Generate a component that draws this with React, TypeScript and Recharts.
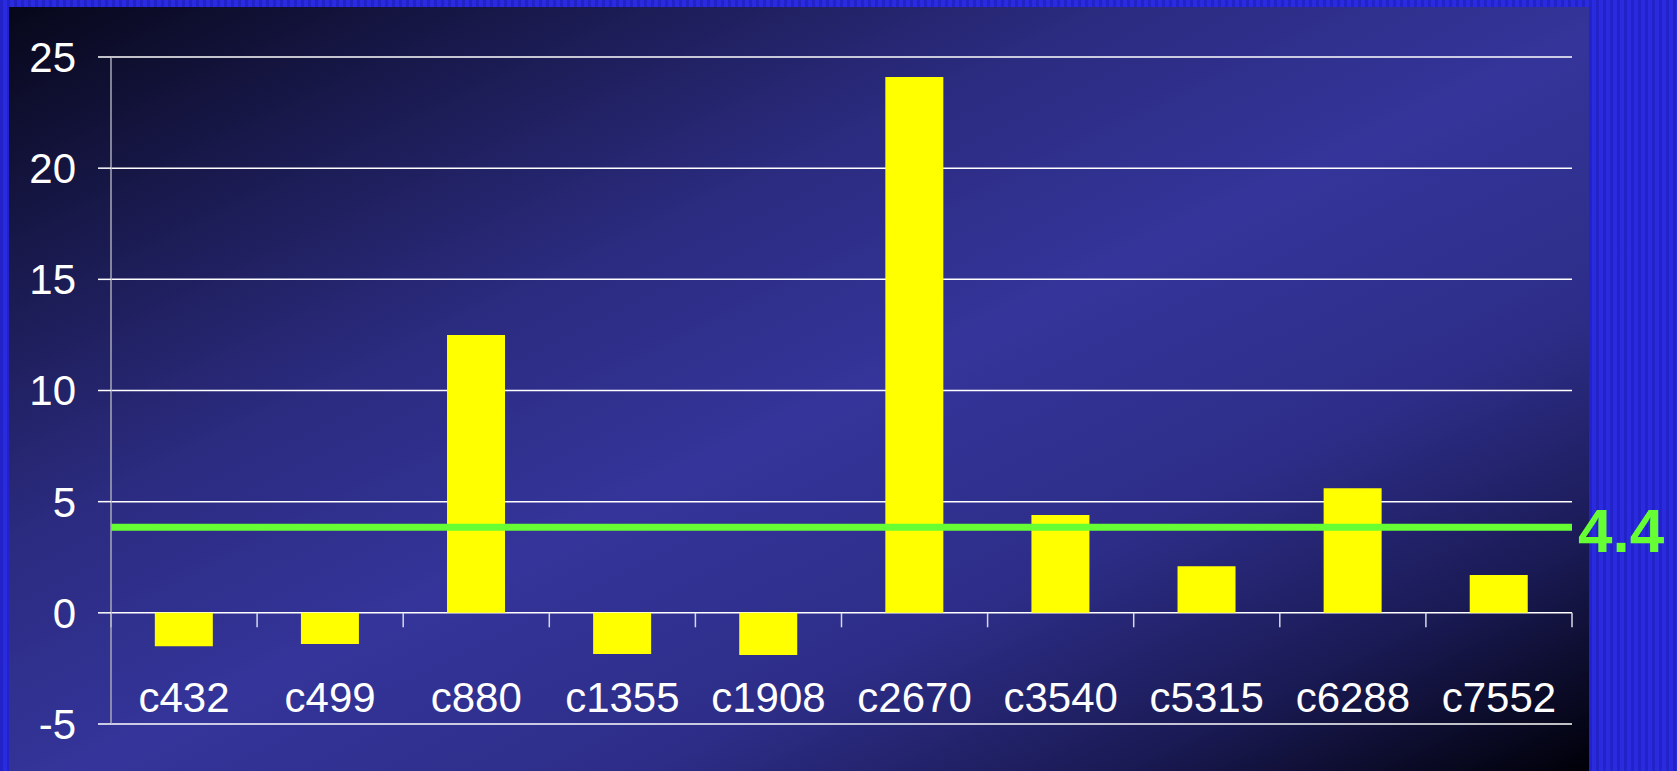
import { Bar, BarChart, CartesianGrid, ReferenceLine, XAxis, YAxis } from "recharts";

const CATEGORIES = ["c432", "c499", "c880", "c1355", "c1908", "c2670", "c3540", "c5315", "c6288", "c7552"];
const VALUES = [-1.5, -1.4, 12.5, -1.85, -1.9, 24.1, 4.4, 2.1, 5.6, 1.7];
const Y_TICKS = [-5, 0, 5, 10, 15, 20, 25];
// the green line sits a bit below the value printed next to it
const AVERAGE_LINE_Y = 3.85;
const AVERAGE_LABEL = "4.4";

const WIDTH = 1677;
const HEIGHT = 771;
const FONT = '"Liberation Sans", Arial, sans-serif';
const TICK_STYLE = { fill: "#ffffff", fontSize: 42, fontFamily: FONT };

const data = CATEGORIES.map((name, i) => ({ name, value: VALUES[i] }));

function CategoryTick({ x, y, payload }: any) {
  return (
    <text x={x} y={y - 12} textAnchor="middle" fill="#ffffff" fontSize={42} fontFamily={FONT}>
      {payload.value}
    </text>
  );
}

export default function App() {
  return (
    <div
      style={{
        position: "absolute",
        left: 0,
        top: 0,
        width: WIDTH,
        height: HEIGHT,
        overflow: "hidden",
        background:
          "repeating-linear-gradient(90deg, rgba(0,0,60,0.12) 0px, rgba(0,0,60,0.12) 3px, rgba(80,80,255,0.08) 3px, rgba(80,80,255,0.08) 7px), #2727dc",
      }}
    >
      {/* dark slide panel behind the chart */}
      <div
        style={{
          position: "absolute",
          left: 9,
          top: 7,
          width: 1580,
          height: HEIGHT - 7,
          background:
            "linear-gradient(to bottom right, #07071a 0%, #1a1a50 18%, #2b2b80 35%, #34349a 52%, #2d2d88 70%, #1a1a55 85%, #000008 100%)",
        }}
      />
      <div style={{ position: "absolute", left: 0, top: 0 }}>
        <BarChart
          width={WIDTH}
          height={HEIGHT}
          data={data}
          margin={{ top: 57, right: 105, bottom: 17, left: 0 }}
          barCategoryGap="30%"
        >
          <CartesianGrid vertical={false} stroke="#ffffff" strokeWidth={1.5} />
          <XAxis
            dataKey="name"
            height={30}
            axisLine={false}
            tickLine={false}
            tickSize={0}
            tickMargin={0}
            interval={0}
            tick={<CategoryTick />}
          />
          <YAxis
            width={111}
            domain={[-5, 25]}
            ticks={Y_TICKS}
            interval={0}
            axisLine={{ stroke: "#a8a8b8", strokeWidth: 1.5 }}
            tickLine={{ stroke: "#ffffff", strokeWidth: 1.5 }}
            tickSize={13}
            tickMargin={22}
            tick={TICK_STYLE}
          />
          <Bar dataKey="value" fill="#ffff00" isAnimationActive={false} />
          {CATEGORIES.map((c) => (
            <ReferenceLine
              key={c}
              segment={[
                { x: c, y: 0 },
                { x: c, y: -0.65 },
              ]}
              position="start"
              stroke="#d8d8e8"
              strokeWidth={1.5}
              ifOverflow="visible"
            />
          ))}
          <ReferenceLine
            segment={[
              { x: CATEGORIES[CATEGORIES.length - 1], y: 0 },
              { x: CATEGORIES[CATEGORIES.length - 1], y: -0.65 },
            ]}
            position="end"
            stroke="#d8d8e8"
            strokeWidth={1.5}
            ifOverflow="visible"
          />
          <ReferenceLine
            y={AVERAGE_LINE_Y}
            stroke="#66ff33"
            strokeWidth={7}
            ifOverflow="visible"
            label={{
              value: AVERAGE_LABEL,
              position: "right",
              offset: 6,
              fill: "#66ff33",
              fontSize: 62,
              fontWeight: "bold",
              fontFamily: FONT,
              dy: 3,
            }}
          />
        </BarChart>
      </div>
    </div>
  );
}
